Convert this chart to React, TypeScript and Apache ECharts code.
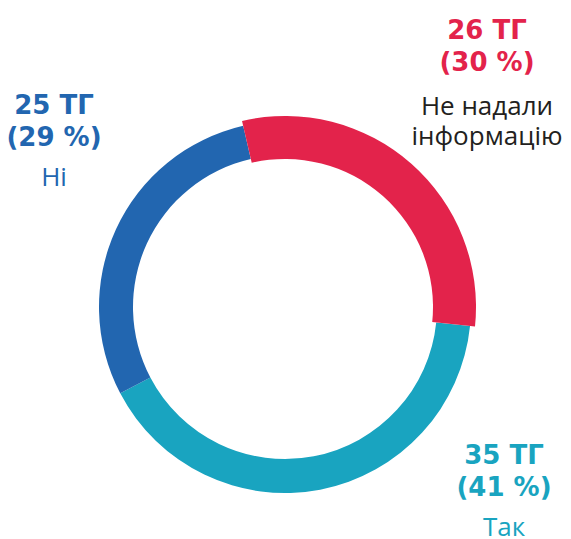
import React, { useEffect, useRef } from "react";
import * as echarts from "echarts";

const categories = ["Не надали інформацію", "Так", "Ні"];
const values = [26, 35, 25];
const percents = [30, 41, 29];
const unit = "ТГ";
const nameLines = [["Не надали", "інформацію"], ["Так"], ["Ні"]];
const colors = ["#E3234B", "#19A4C0", "#2266B0"];

const BOLD_FONT = '"DejaVu Sans", sans-serif';
const REG_FONT = '"Open Sans", sans-serif';

export default function App() {
  const ref = useRef<HTMLDivElement>(null);
  useEffect(() => {
    if (!ref.current) return;
    const chart = echarts.init(ref.current, undefined, { renderer: "svg" });
    const center = [285, 307];
    const baseData = categories.map((c, i) => ({
      name: c,
      value: values[i],
      itemStyle: { color: i === 0 ? "transparent" : colors[i] },
    }));
    const redData = categories.map((c, i) => ({
      name: c,
      value: values[i],
      itemStyle: { color: i === 0 ? colors[0] : "transparent" },
    }));
    const labelPos = [
      { x: 487, ys: [30, 62, 105, 135] },
      { x: 504, ys: [455, 487, 526] },
      { x: 54, ys: [105, 137, 176] },
    ];
    const graphics: any[] = [];
    categories.forEach((_, i) => {
      const p = labelPos[i];
      const lines = [
        { t: `${values[i]} ${unit}`, bold: true },
        { t: `(${percents[i]} %)`, bold: true },
        ...nameLines[i].map((t) => ({ t, bold: false })),
      ];
      lines.forEach((ln, k) => {
        graphics.push({
          type: "text",
          x: p.x,
          y: p.ys[k],
          style: {
            text: ln.t,
            fill: ln.bold ? colors[i] : i === 0 ? "#231F20" : colors[i],
            font: ln.bold ? `bold 26px ${BOLD_FONT}` : `26px ${REG_FONT}`,
            textAlign: "center",
            textVerticalAlign: "middle",
          },
        });
      });
    });
    chart.setOption({
      animation: false,
      graphic: graphics,
      series: [
        {
          type: "pie",
          silent: true,
          center,
          radius: [152, 186],
          startAngle: 103,
          clockwise: true,
          label: { show: false },
          labelLine: { show: false },
          itemStyle: { borderWidth: 0 },
          data: baseData,
        },
        {
          type: "pie",
          silent: true,
          center,
          radius: [148, 191],
          startAngle: 103,
          clockwise: true,
          label: { show: false },
          labelLine: { show: false },
          itemStyle: { borderWidth: 0 },
          data: redData,
        },
      ],
    });
    return () => chart.dispose();
  }, []);
  return (
    <div
      ref={ref}
      style={{ position: "fixed", left: 0, top: 0, width: 571, height: 539, background: "#fff" }}
    />
  );
}
